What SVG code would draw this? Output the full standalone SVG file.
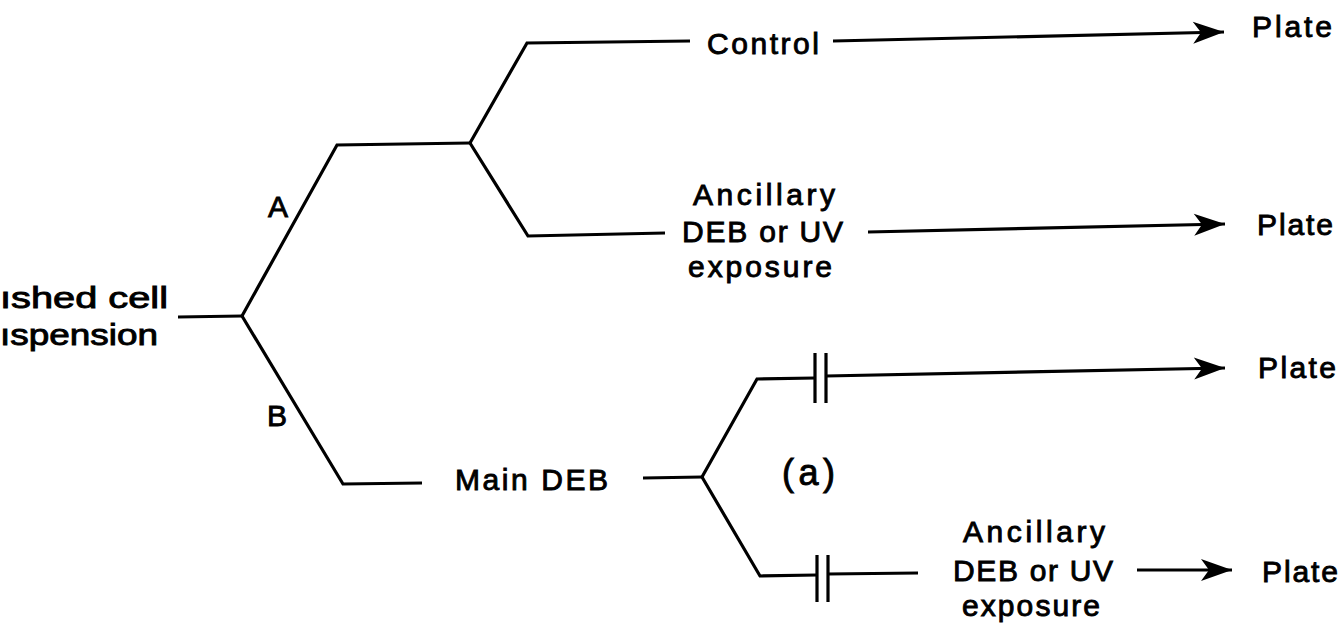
<svg xmlns="http://www.w3.org/2000/svg" width="1341" height="630" viewBox="0 0 1341 630">
<defs>
<style>
.ln{fill:none;stroke:#000;stroke-width:3.2;stroke-linejoin:miter;stroke-linecap:butt}
.t{font-family:"Liberation Sans",Arial,sans-serif;font-size:30px;fill:#000;stroke:#000;stroke-width:0.9}
</style>
<marker id="arr" markerUnits="userSpaceOnUse" markerWidth="36" markerHeight="28" viewBox="-2 -14 36 28" refX="31" refY="0" orient="auto">
<path d="M0,-11 L31,0 L0,11 L8,0 Z" fill="#000"/>
</marker>
</defs>
<rect width="1341" height="630" fill="#fff"/>

<g id="connectors">
<path class="ln" d="M178,317 L242,316"/>
<path class="ln" d="M242,316 L337,145 L470,143"/>
<path class="ln" d="M470,143 L527,43 L690,41"/>
<path class="ln" d="M470,143 L528,236 L665,233"/>
<path class="ln" d="M833,41 L1224,32" marker-end="url(#arr)"/>
<path class="ln" d="M868,232 L1225,224" marker-end="url(#arr)"/>
<path class="ln" d="M242,316 L343,484 L422,483"/>
<path class="ln" d="M643,478 L702,477"/>
<path class="ln" d="M702,477 L757,379 L815,378"/>
<path class="ln" d="M815,353 L815,403 M826,353 L826,403"/>
<path class="ln" d="M826,376 L1225,368" marker-end="url(#arr)"/>
<path class="ln" d="M702,477 L760,576 L817,575"/>
<path class="ln" d="M817,555 L817,602 M828,555 L828,602"/>
<path class="ln" d="M828,574 L918,573"/>
<path class="ln" d="M1137,570 L1232,570" marker-end="url(#arr)"/>
</g>

<g id="source">
<text class="t" x="0" y="308" textLength="168" lengthAdjust="spacingAndGlyphs">ıshed cell</text>
<text class="t" x="0" y="345" textLength="158" lengthAdjust="spacingAndGlyphs">ıspension</text>
</g>
<g id="labelA"><text class="t" x="268" y="217">A</text></g>
<g id="labelB"><text class="t" x="267" y="426">B</text></g>
<g id="control"><text class="t" x="707" y="54" textLength="112" lengthAdjust="spacing">Control</text></g>
<g id="ancillary1">
<text class="t" x="693" y="205" textLength="142" lengthAdjust="spacing">Ancillary</text>
<text class="t" x="682" y="242" textLength="161" lengthAdjust="spacing">DEB or UV</text>
<text class="t" x="688" y="277" textLength="144" lengthAdjust="spacing">exposure</text>
</g>
<g id="mainDEB"><text class="t" x="455" y="490" textLength="153" lengthAdjust="spacing">Main DEB</text></g>
<g id="labela"><text class="t" x="782" y="485" style="font-size:36px" textLength="53" lengthAdjust="spacing">(a)</text></g>
<g id="ancillary2">
<text class="t" x="963" y="542" textLength="142" lengthAdjust="spacing">Ancillary</text>
<text class="t" x="953" y="581" textLength="160" lengthAdjust="spacing">DEB or UV</text>
<text class="t" x="962" y="616" textLength="138" lengthAdjust="spacing">exposure</text>
</g>
<g id="plate1"><text class="t" x="1252" y="37" textLength="80" lengthAdjust="spacing">Plate</text></g>
<g id="plate2"><text class="t" x="1257" y="235" textLength="76" lengthAdjust="spacing">Plate</text></g>
<g id="plate3"><text class="t" x="1258" y="378" textLength="78" lengthAdjust="spacing">Plate</text></g>
<g id="plate4"><text class="t" x="1262" y="582" textLength="76" lengthAdjust="spacing">Plate</text></g>
</svg>
